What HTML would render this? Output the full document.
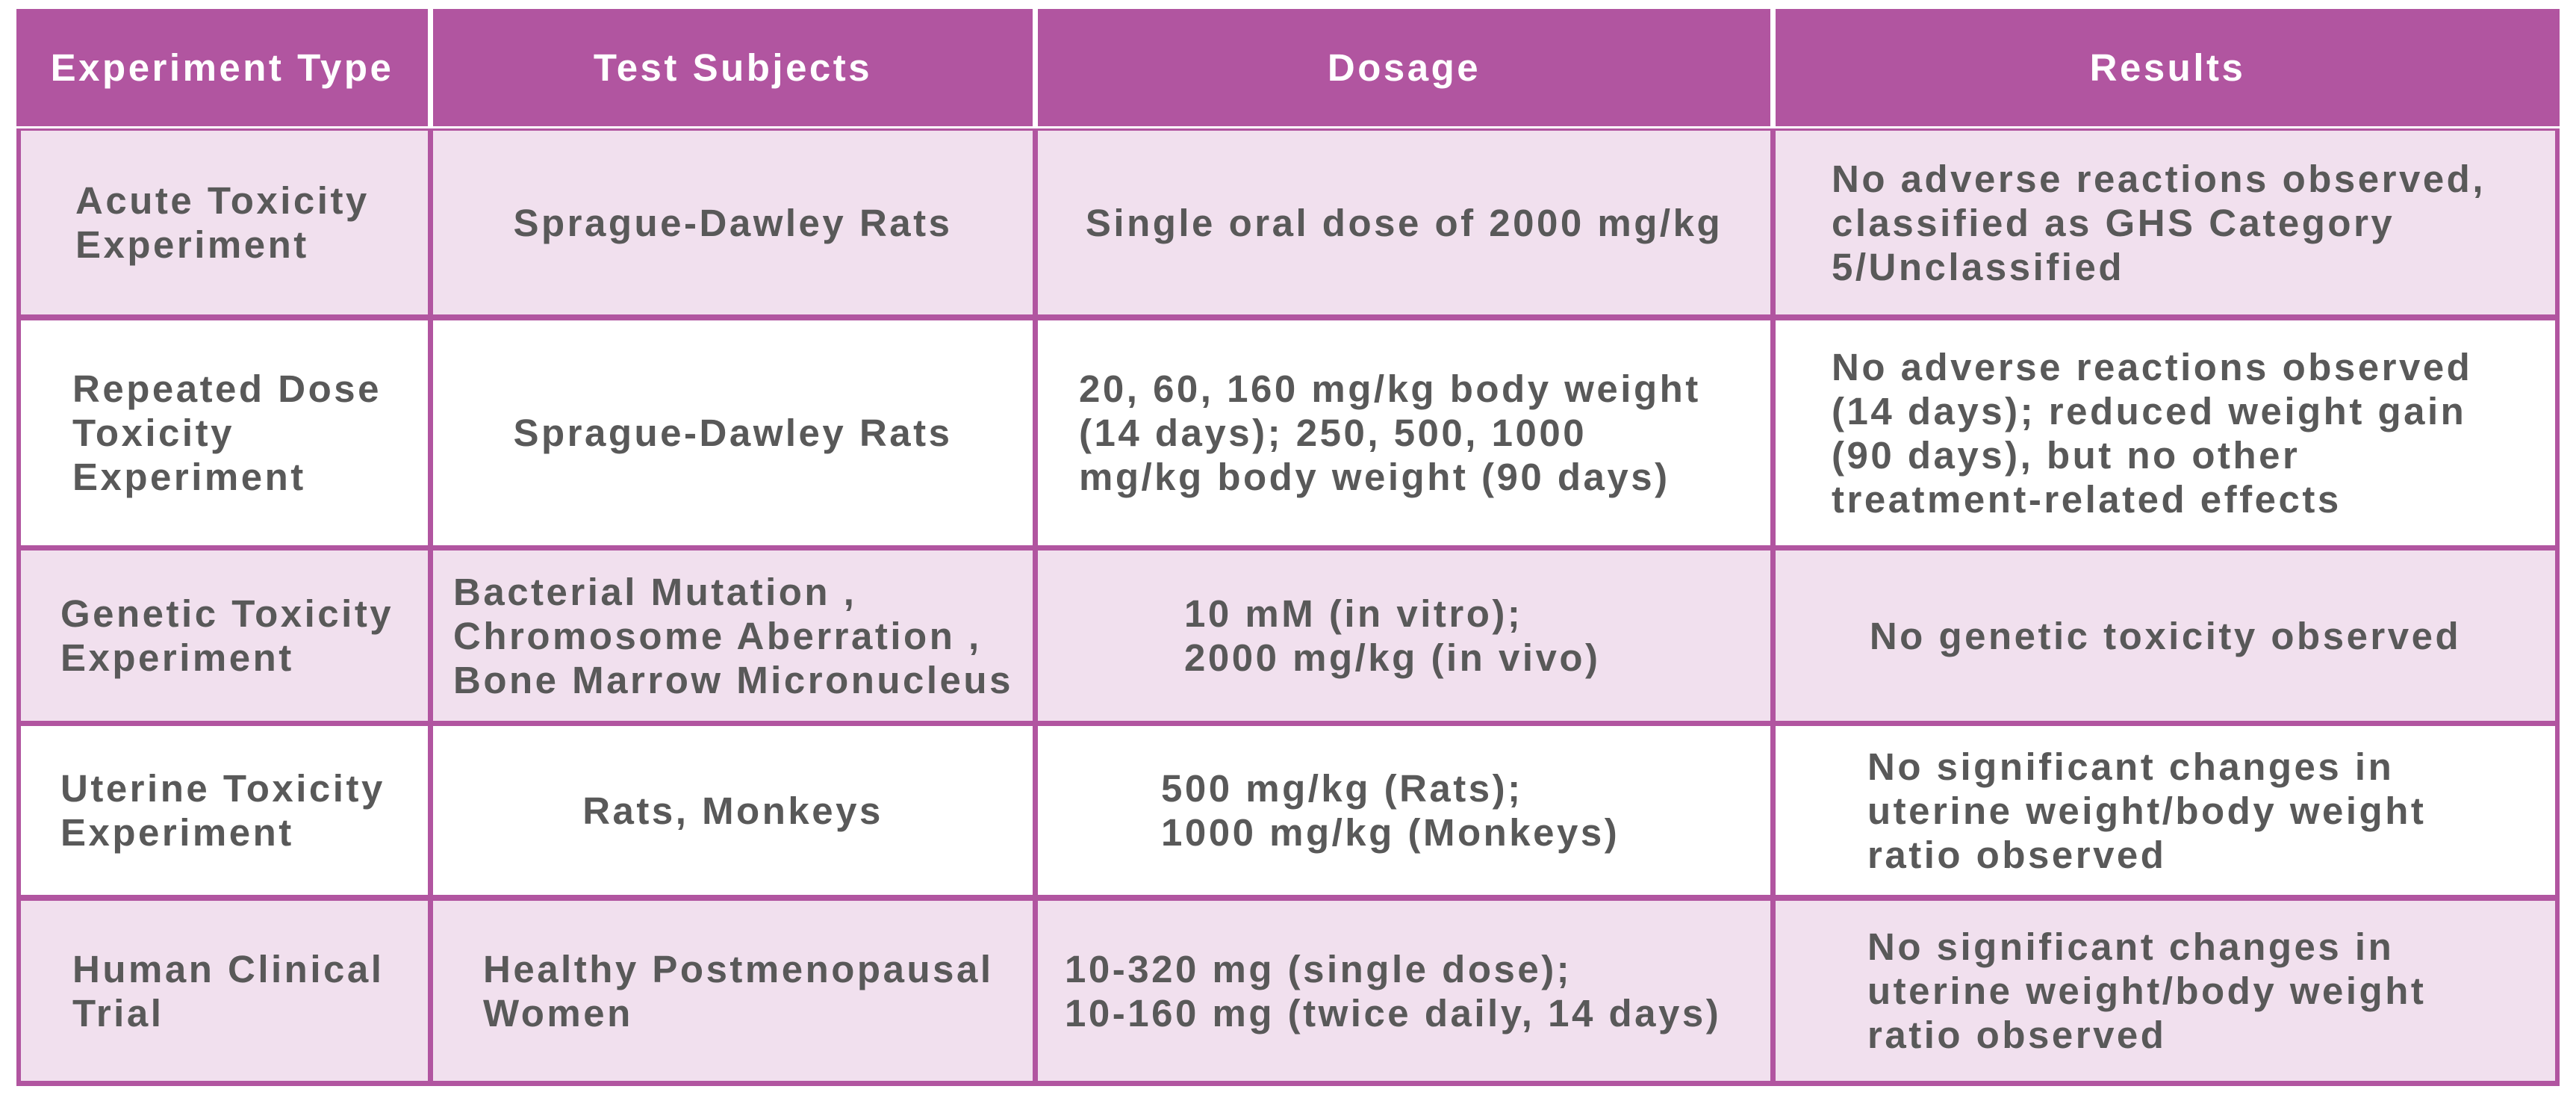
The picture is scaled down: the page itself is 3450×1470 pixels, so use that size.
<!DOCTYPE html>
<html><head><meta charset="utf-8"><style>
body{margin:0;width:3450px;height:1470px;background:#fff;position:relative;overflow:hidden;font-family:"Liberation Sans",Arial,sans-serif;font-weight:bold}
.c{position:absolute;display:flex;flex-direction:column;justify-content:center;box-sizing:border-box;font-size:51px;line-height:59px;color:#595959;letter-spacing:3.5px;white-space:nowrap}
.h{background:#b155a0;color:#fff;align-items:center;text-align:center;font-size:51px}
.p{background:#f1e0ee}.w{background:#fff}
.ctr{align-items:center;text-align:center}
#frame{position:absolute;left:22px;top:172px;width:3406px;height:1282px;background:#b155a0}
</style></head><body>
<div id="frame"></div>
<div class="c h" style="left:22px;top:12px;width:551px;height:157px">Experiment Type</div>
<div class="c h" style="left:580px;top:12px;width:803px;height:157px">Test Subjects</div>
<div class="c h" style="left:1390px;top:12px;width:981px;height:157px">Dosage</div>
<div class="c h" style="left:2378px;top:12px;width:1050px;height:157px">Results</div>

<div class="c p" style="left:28px;top:175px;width:545px;height:246px;padding-left:73px">Acute Toxicity<br>Experiment</div>
<div class="c p ctr" style="left:580px;top:175px;width:803px;height:246px">Sprague-Dawley Rats</div>
<div class="c p ctr" style="left:1390px;top:175px;width:981px;height:246px">Single oral dose of 2000 mg/kg</div>
<div class="c p" style="left:2378px;top:175px;width:1044px;height:246px;padding-left:75px">No adverse reactions observed,<br>classified as GHS Category<br>5/Unclassified</div>

<div class="c w" style="left:28px;top:429px;width:545px;height:301px;padding-left:69px">Repeated Dose<br>Toxicity<br>Experiment</div>
<div class="c w ctr" style="left:580px;top:429px;width:803px;height:301px">Sprague-Dawley Rats</div>
<div class="c w" style="left:1390px;top:429px;width:981px;height:301px;padding-left:55px">20, 60, 160 mg/kg body weight<br>(14 days); 250, 500, 1000<br>mg/kg body weight (90 days)</div>
<div class="c w" style="left:2378px;top:429px;width:1044px;height:301px;padding-left:75px">No adverse reactions observed<br>(14 days); reduced weight gain<br>(90 days), but no other<br>treatment-related effects</div>

<div class="c p" style="left:28px;top:737px;width:545px;height:228px;padding-left:53px">Genetic Toxicity<br>Experiment</div>
<div class="c p" style="left:580px;top:737px;width:803px;height:228px;padding-left:27px">Bacterial Mutation ,<br>Chromosome Aberration ,<br>Bone Marrow Micronucleus</div>
<div class="c p" style="left:1390px;top:737px;width:981px;height:228px;padding-left:196px">10 mM (in vitro);<br>2000 mg/kg (in vivo)</div>
<div class="c p ctr" style="left:2378px;top:737px;width:1044px;height:228px">No genetic toxicity observed</div>

<div class="c w" style="left:28px;top:972px;width:545px;height:226px;padding-left:53px">Uterine Toxicity<br>Experiment</div>
<div class="c w ctr" style="left:580px;top:972px;width:803px;height:226px">Rats, Monkeys</div>
<div class="c w" style="left:1390px;top:972px;width:981px;height:226px;padding-left:165px">500 mg/kg (Rats);<br>1000 mg/kg (Monkeys)</div>
<div class="c w" style="left:2378px;top:972px;width:1044px;height:226px;padding-left:123px">No significant changes in<br>uterine weight/body weight<br>ratio observed</div>

<div class="c p" style="left:28px;top:1206px;width:545px;height:241px;padding-left:69px">Human Clinical<br>Trial</div>
<div class="c p" style="left:580px;top:1206px;width:803px;height:241px;padding-left:67px">Healthy Postmenopausal<br>Women</div>
<div class="c p" style="left:1390px;top:1206px;width:981px;height:241px;padding-left:36px">10-320 mg (single dose);<br>10-160 mg (twice daily, 14 days)</div>
<div class="c p" style="left:2378px;top:1206px;width:1044px;height:241px;padding-left:123px">No significant changes in<br>uterine weight/body weight<br>ratio observed</div>
</body></html>
